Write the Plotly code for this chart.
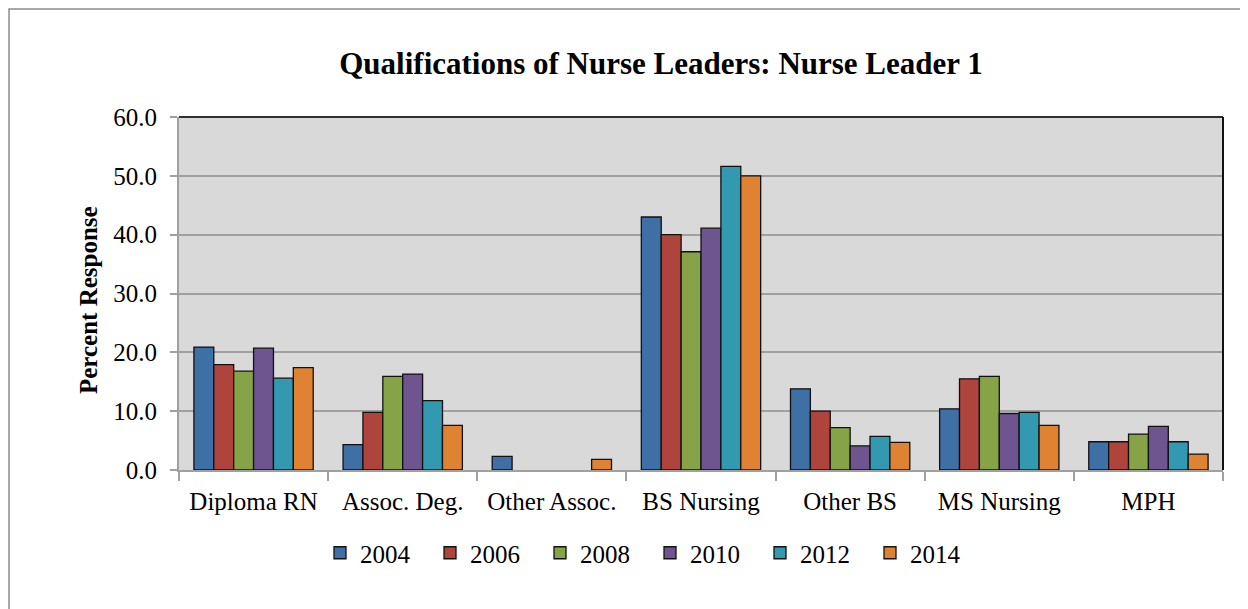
import plotly.graph_objects as go

categories = ["Diploma RN", "Assoc. Deg.", "Other Assoc.", "BS Nursing", "Other BS", "MS Nursing", "MPH"]
years = ["2004", "2006", "2008", "2010", "2012", "2014"]
# None = no bar drawn in the reference
v2004 = [20.9, 4.3, 2.3, 43.0, 13.8, 10.4, 4.8]
v2006 = [17.9, 9.8, None, 40.0, 10.0, 15.5, 4.8]
v2008 = [16.8, 15.9, None, 37.1, 7.2, 15.9, 6.1]
v2010 = [20.7, 16.3, None, 41.1, 4.1, 9.6, 7.4]
v2012 = [15.6, 11.8, None, 51.6, 5.7, 9.8, 4.8]
v2014 = [17.4, 7.6, 1.8, 50.0, 4.7, 7.6, 2.7]
series = [v2004, v2006, v2008, v2010, v2012, v2014]
colors = ["#3E6FA5", "#AE443B", "#86A447", "#6E558F", "#3399B1", "#DF8333"]
y_ticks = [0, 10, 20, 30, 40, 50, 60]

# page has an 8px body margin; work in page coordinates and convert
OFF = 8
W, H = 1248 - OFF, 609 - OFF
PL, PR, PT, PB = 179, 1223, 117, 470   # plot area in page coords
L = PL - OFF
T = PT - OFF
R = W - (PR - OFF)
B = H - (PB - OFF)
pw = PR - PL
ph = PB - PT

def px_x(x):
    return (x - PL) / pw

def px_y(y):
    return (PB - y) / ph

FONT = "Liberation Serif"

fig = go.Figure()
for name, vals, col in zip(years, series, colors):
    fig.add_trace(go.Bar(
        x=categories, y=vals, name=name,
        marker=dict(color=col, line=dict(color="#111111", width=1.3)),
    ))

fig.update_layout(
    width=W, height=H,
    margin=dict(l=L, r=R, t=T, b=B),
    paper_bgcolor="white",
    plot_bgcolor="#D9D9D9",
    barmode="group",
    bargap=0.2,
    bargroupgap=0,
    font=dict(family=FONT, color="black", size=25),
    title=dict(
        text="<b>Qualifications of Nurse Leaders: Nurse Leader 1</b>",
        x=(661 - OFF) / W, xref="container", xanchor="center",
        y=1 - (63 - OFF) / H, yref="container", yanchor="middle",
        font=dict(family=FONT, size=31, color="black"),
    ),
    legend=dict(
        orientation="h",
        x=px_x(650), xanchor="center",
        y=px_y(553), yanchor="middle",
        font=dict(family=FONT, size=25, color="black"),
        entrywidth=65, entrywidthmode="pixels",
        bgcolor="rgba(0,0,0,0)",
    ),
    xaxis=dict(
        type="category",
        tickson="boundaries",
        ticks="outside", ticklen=9, tickcolor="#A0A0A0", tickwidth=1.5,
        showline=True, linecolor="#A0A0A0", linewidth=2,
        showgrid=False,
        tickfont=dict(family=FONT, size=25, color="black"),
        ticklabelstandoff=8,
    ),
    yaxis=dict(
        range=[0, 60],
        tickvals=y_ticks,
        ticktext=[f"{v:.1f}" for v in y_ticks],
        ticks="outside", ticklen=7, tickcolor="#A0A0A0", tickwidth=1.5,
        showline=True, linecolor="#A0A0A0", linewidth=2,
        showgrid=True, gridcolor="#A0A0A0", gridwidth=1.5,
        zeroline=False,
        tickfont=dict(family=FONT, size=25, color="black"),
        ticklabelstandoff=8,
    ),
    annotations=[dict(
        text="<b>Percent Response</b>",
        textangle=-90,
        xref="paper", yref="paper",
        x=px_x(88), y=px_y(300),
        xanchor="center", yanchor="middle",
        showarrow=False,
        font=dict(family=FONT, size=25, color="black"),
    )],
    shapes=[
        dict(type="line", xref="paper", yref="paper", x0=0, x1=1, y0=1, y1=1,
             line=dict(color="#303030", width=2)),
        dict(type="line", xref="paper", yref="paper", x0=1, x1=1, y0=0, y1=1,
             line=dict(color="#111111", width=2)),
        dict(type="rect", xref="paper", yref="paper",
             x0=px_x(9), x1=px_x(1262), y0=px_y(622), y1=px_y(9),
             line=dict(color="#8C8C8C", width=1.5), fillcolor="rgba(0,0,0,0)",
             layer="below"),
    ],
)

fig.write_html("out.html")
